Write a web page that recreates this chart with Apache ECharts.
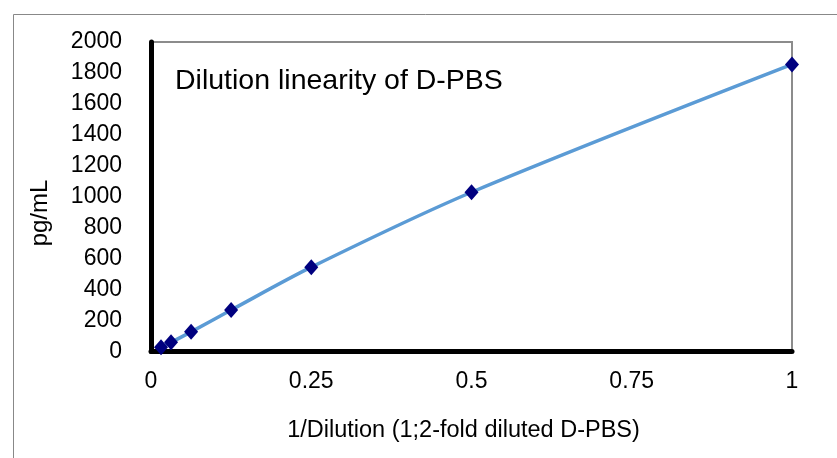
<!DOCTYPE html>
<html>
<head>
<meta charset="utf-8">
<script src="https://cdn.jsdelivr.net/npm/echarts@6/dist/echarts.min.js"></script>
<style>
html,body{margin:0;padding:0;background:#fff;}
#chart{width:837px;height:458px;}
</style>
</head>
<body>
<div id="chart"></div>
<script>
const xValues = [1/64, 1/32, 1/16, 1/8, 1/4, 1/2, 1];
const yValues = [27, 59, 127, 268, 545, 1029, 1855];
const chartTitle = 'Dilution linearity of D-PBS';
const xAxisName = '1/Dilution (1;2-fold diluted D-PBS)';
const yAxisName = 'pg/mL';

const points = xValues.map((x, i) => [x, yValues[i]]);
const font = 'Liberation Sans, Arial, sans-serif';

const chart = echarts.init(document.getElementById('chart'), null, {renderer: 'canvas'});
chart.setOption({
  animation: false,
  backgroundColor: '#fff',
  graphic: [
    {type: 'rect', z: -10, shape: {x: 13.5, y: 14.5, width: 900, height: 500},
     style: {fill: 'none', stroke: '#888', lineWidth: 1}},
    {type: 'text', left: 175, top: 67, z: 10,
     style: {text: chartTitle, font: '28.5px ' + font, fill: '#000'}},
    {type: 'text', x: 40, y: 213, rotation: Math.PI / 2, z: 10,
     style: {text: yAxisName, font: '24px ' + font, fill: '#000', align: 'center', verticalAlign: 'middle'}}
  ],
  grid: {left: 151, right: 45, top: 42, bottom: 106.5, show: true,
         borderColor: '#8c8c8c', borderWidth: 2, backgroundColor: 'transparent'},
  xAxis: {
    type: 'value', min: 0, max: 1, interval: 0.25,
    name: xAxisName, nameLocation: 'middle', nameGap: 67,
    nameTextStyle: {fontSize: 23.5, fontFamily: font, color: '#000', padding: [0, 16, 0, 0]},
    axisLine: {show: true, onZero: false, lineStyle: {color: '#000', width: 5}},
    axisTick: {show: false},
    splitLine: {show: false},
    axisLabel: {fontSize: 23, fontFamily: font, color: '#000', margin: 19}
  },
  yAxis: {
    type: 'value', min: 0, max: 2000, interval: 200,
    axisLine: {show: true, lineStyle: {color: '#000', width: 5}},
    axisTick: {show: false},
    splitLine: {show: false},
    axisLabel: {fontSize: 23, fontFamily: font, color: '#000', margin: 29,
                padding: [5, 0, 0, 0], formatter: v => String(v)}
  },
  series: [{
    type: 'line', data: points, smooth: 0.3,
    lineStyle: {color: '#5b9bd5', width: 3.5},
    symbol: 'diamond', symbolSize: [14, 16],
    itemStyle: {color: '#00007f'},
    z: 5
  }]
});
</script>
</body>
</html>
